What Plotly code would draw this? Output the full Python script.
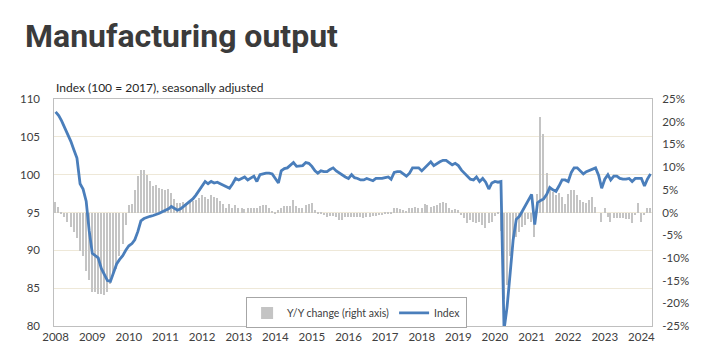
import plotly.graph_objects as go
import pandas as pd

title_text = "Manufacturing output"
subtitle_text = "Index (100 = 2017), seasonally adjusted"

# Monthly index, Jan 2008 - Apr 2024
index_values = [
    108.3, 107.8, 107.1, 106.2, 105.3, 104.4, 103.3, 102.2, 98.8, 98.1, 96.5, 92.6,
    89.6, 89.3, 89.0, 87.6, 86.8, 86.0, 85.9, 87.0, 88.2, 88.8, 89.3, 90.0,
    90.6, 90.9, 91.4, 92.5, 93.9, 94.2, 94.4, 94.5, 94.6, 94.7, 94.9, 95.1,
    95.3, 95.5, 95.8, 95.6, 95.3, 95.5, 95.8, 96.1, 96.4, 96.8, 97.3, 97.9,
    98.6, 99.1, 98.8, 99.1, 98.9, 99.0, 98.8, 98.6, 98.3, 98.2, 98.8, 99.5,
    99.3, 99.5, 99.7, 99.3, 99.5, 99.8, 99.1, 100.0, 100.1, 100.2, 100.2, 100.1,
    99.5, 98.9, 100.5, 100.8, 100.9, 101.3, 101.6, 101.1, 101.1, 101.2, 101.6, 101.5,
    101.1, 100.5, 100.2, 100.5, 100.4, 100.4, 100.7, 100.9, 100.5, 100.2, 100.0, 99.7,
    99.5, 100.0, 99.6, 99.5, 99.3, 99.3, 99.5, 99.3, 99.2, 99.5, 99.5, 99.5,
    99.6, 99.7, 99.4, 100.3, 100.4, 100.4, 100.1, 99.8, 100.2, 100.9, 100.9, 100.9,
    100.5, 100.9, 101.3, 101.7, 101.2, 101.5, 101.7, 101.9, 101.9, 101.6, 101.3, 101.5,
    101.2, 100.6, 100.2, 99.8, 99.4, 99.3, 99.7, 99.1, 99.5, 99.0, 98.1, 98.9,
    99.1, 99.0, 99.1, 79.5, 82.5, 87.0, 91.4, 94.1, 94.5, 95.2, 95.9, 96.7,
    97.4, 93.4, 96.3, 96.6, 96.8, 97.4, 98.3, 98.0, 97.8, 98.5, 99.3, 99.3,
    99.1, 100.3, 100.9, 100.9, 100.5, 100.1, 100.4, 100.6, 100.8, 100.9, 99.9, 98.2,
    99.4, 100.0, 99.3, 99.8, 99.8, 99.5, 99.4, 99.4, 99.5, 99.1, 99.5, 99.5,
    99.5, 98.5, 99.4, 100.1,
]

# Year-on-year change in percent (right axis)
yoy_values = [
    2.4, 1.3, -0.3, -1.0, -2.2, -3.2, -4.2, -5.7, -8.4, -9.6, -12.8, -14.8,
    -17.4, -17.5, -18.0, -17.9, -18.2, -17.5, -15.8, -13.8, -12.4, -9.5, -7.0, -2.8,
    1.6, 1.9, 5.0, 8.0, 9.4, 9.4, 8.2, 7.0, 5.9, 6.1, 5.5, 5.2,
    5.0, 5.1, 4.2, 3.0, 2.2, 2.0, 2.4, 1.6, 2.5, 2.6, 2.8, 3.1,
    3.9, 3.5, 3.0, 3.8, 3.5, 3.2, 2.6, 1.9, 1.1, 1.9, 1.1, 1.6,
    1.1, 0.9, 0.7, 0.9, 1.1, 0.9, 1.1, 1.4, 1.6, 1.6, 0.9, 0.2,
    -0.3, 0.6, 1.1, 1.4, 1.4, 1.4, 2.7, 1.4, 1.1, 1.1, 1.6, 1.9,
    2.2, 0.5, -0.3, -0.2, -0.6, -0.9, -0.8, -0.8, -1.1, -1.7, -1.7, -0.9,
    -0.9, -1.1, -0.9, -1.1, -1.1, -1.3, -1.1, -0.9, -0.8, -0.7, -0.6, -0.5,
    -0.4, -0.2, -0.3, 0.9, 0.9, 0.7, 0.5, 0.3, 0.9, 1.1, 1.2, 0.9,
    1.1, 1.9, 1.6, 1.2, 1.4, 1.6, 2.0, 2.4, 2.0, 0.9, 0.5, 0.7,
    0.5, -0.6, -1.3, -2.4, -1.7, -2.2, -2.4, -2.2, -2.8, -3.5, -2.4, -2.0,
    -0.8, -0.3, -4.0, -19.0, -16.0, -9.5, -6.5, -5.5, -4.3, -3.3, -2.8, -1.5,
    -2.0, -5.5, 4.0, 21.1, 17.4, 8.6, 5.7, 4.6, 3.9, 4.4, 3.5, 1.8,
    4.0, 5.0, 5.0, 3.9, 2.8, 2.4, 2.0, 2.8, 3.5, 1.3, 0.0, -2.0,
    0.9, -0.9, -2.0, -1.3, -1.3, -1.3, -1.3, -1.5, -1.5, -2.4, -0.5, 2.2,
    -2.0, -0.6, 1.0, 1.0,
]

years = list(range(2008, 2025))
year_labels = [str(y) for y in years]
left_ticks = [80, 85, 90, 95, 100, 105, 110]
right_ticks = [-25, -20, -15, -10, -5, 0, 5, 10, 15, 20, 25]
right_labels = [f"{v}%" for v in right_ticks]

dates = pd.date_range("2008-01-01", periods=len(index_values), freq="MS")

# The page body has an 8px margin, so the figure is drawn at (8, 8);
# size it to fit the 720x361 window.
W, H = 712, 353

font_family = "Lato, 'Open Sans', sans-serif"
text_color = "#404040"
frame_color = "#bfbfbf"

fig = go.Figure()
fig.add_trace(go.Bar(
    x=dates, y=yoy_values, name="Y/Y change (right axis)",
    marker=dict(color="#c4c4c4", line=dict(width=0)),
    width=15 * 86400000, yaxis="y",
))
fig.add_trace(go.Scatter(
    x=dates, y=index_values, name="Index", mode="lines",
    line=dict(color="#4a7ebb", width=2.8), yaxis="y2",
))

fig.update_layout(
    width=W, height=H,
    margin=dict(l=44, r=68, t=91, b=35),
    paper_bgcolor="white", plot_bgcolor="white",
    font=dict(family=font_family, size=12, color=text_color),
    showlegend=True,
    bargap=0,
    title=dict(
        text=f"<b>{title_text}</b>",
        font=dict(family="Roboto, sans-serif", size=32, color="#3b3b3b"),
        xref="container", x=17 / W, xanchor="left",
        yref="container", y=1 - 28 / H, yanchor="middle",
    ),
    xaxis=dict(
        type="date",
        range=["2007-12-16", "2024-04-16"],
        tickvals=[f"{y}-01-01" for y in years],
        ticktext=year_labels,
        showgrid=False, zeroline=False,
        showline=True, mirror=True, linecolor=frame_color, linewidth=1,
        ticks="", tickfont=dict(size=11.5, color=text_color),
        ticklabelstandoff=0,
    ),
    yaxis=dict(
        side="right", range=[-25, 25],
        tickvals=right_ticks, ticktext=right_labels,
        showgrid=False, zeroline=False,
        showline=True, mirror=True, linecolor=frame_color, linewidth=1,
        ticks="", tickfont=dict(size=11.5, color=text_color),
        ticklabelstandoff=7,
    ),
    yaxis2=dict(
        side="left", overlaying="y", range=[80, 110],
        tickvals=left_ticks,
        showgrid=True, gridcolor="#eee8d8", gridwidth=1,
        zeroline=False, showline=False,
        ticks="", tickfont=dict(size=11.5, color=text_color),
        ticklabelstandoff=13,
    ),
    legend=dict(
        orientation="h", xref="paper", yref="paper",
        x=0.506, xanchor="center", y=0.126, yanchor="top",
        bgcolor="white", bordercolor="#a6a6a6", borderwidth=1,
        font=dict(size=10.5, color=text_color),
        itemwidth=30,
    ),
    annotations=[dict(
        text=subtitle_text, xref="paper", yref="paper",
        x=0, xanchor="left", y=(318 - 79) / 227, yanchor="middle",
        showarrow=False, font=dict(size=12, color="#262626"),
    )],
)

fig.write_html("out.html")
